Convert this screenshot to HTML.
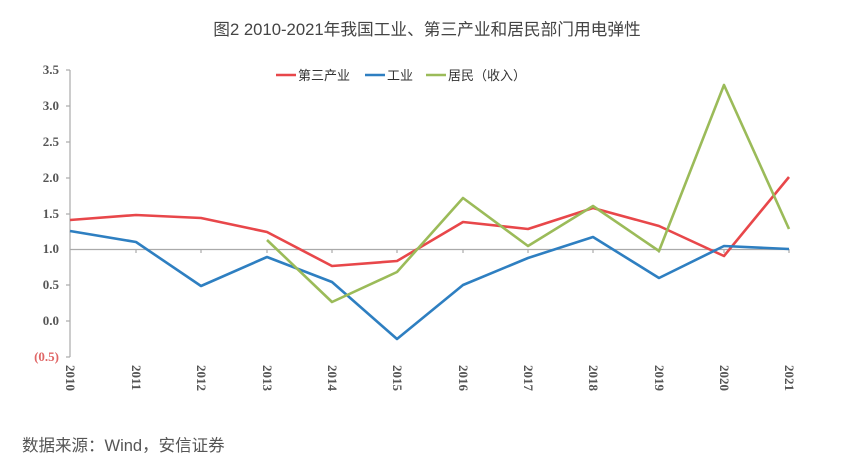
<!DOCTYPE html>
<html><head><meta charset="utf-8"><style>
body{margin:0;background:#fff;width:865px;height:473px;overflow:hidden}
svg{display:block}
</style></head><body>
<svg width="865" height="473" xmlns="http://www.w3.org/2000/svg" font-family="Liberation Serif, serif">
<text x="427" y="35" text-anchor="middle" font-family="Liberation Sans, Noto Sans CJK SC, sans-serif" font-size="16.7" fill="#444">图2 2010-2021年我国工业、第三产业和居民部门用电弹性</text>
<g stroke="#aaa" stroke-width="1.2">
<line x1="70" y1="70" x2="70" y2="357"/>
<line x1="70" y1="249.5" x2="789" y2="249.5"/>
<line x1="66" y1="70" x2="70" y2="70"/><line x1="66" y1="106" x2="70" y2="106"/><line x1="66" y1="142" x2="70" y2="142"/><line x1="66" y1="178" x2="70" y2="178"/><line x1="66" y1="214" x2="70" y2="214"/><line x1="66" y1="285" x2="70" y2="285"/><line x1="66" y1="321" x2="70" y2="321"/><line x1="66" y1="357" x2="70" y2="357"/>
<line x1="136" y1="249" x2="136" y2="253"/><line x1="201" y1="249" x2="201" y2="253"/><line x1="267" y1="249" x2="267" y2="253"/><line x1="332" y1="249" x2="332" y2="253"/><line x1="397" y1="249" x2="397" y2="253"/><line x1="463" y1="249" x2="463" y2="253"/><line x1="528" y1="249" x2="528" y2="253"/><line x1="593" y1="249" x2="593" y2="253"/><line x1="659" y1="249" x2="659" y2="253"/><line x1="724" y1="249" x2="724" y2="253"/><line x1="789" y1="249" x2="789" y2="253"/>
</g>
<g font-size="13" font-weight="bold" fill="#555" text-anchor="end">
<text x="59" y="74">3.5</text><text x="59" y="110">3.0</text><text x="59" y="146">2.5</text><text x="59" y="182">2.0</text><text x="59" y="218">1.5</text><text x="59" y="253">1.0</text><text x="59" y="289">0.5</text><text x="59" y="325">0.0</text><text x="59" y="361" fill="#e06666">(0.5)</text>
</g>
<g font-size="13" font-weight="bold" fill="#555">
<text transform="translate(66,365) rotate(90)">2010</text>
<text transform="translate(132,365) rotate(90)">2011</text>
<text transform="translate(197,365) rotate(90)">2012</text>
<text transform="translate(263,365) rotate(90)">2013</text>
<text transform="translate(328,365) rotate(90)">2014</text>
<text transform="translate(393,365) rotate(90)">2015</text>
<text transform="translate(459,365) rotate(90)">2016</text>
<text transform="translate(524,365) rotate(90)">2017</text>
<text transform="translate(589,365) rotate(90)">2018</text>
<text transform="translate(655,365) rotate(90)">2019</text>
<text transform="translate(720,365) rotate(90)">2020</text>
<text transform="translate(785,365) rotate(90)">2021</text>
</g>
<g fill="none" stroke-width="2.6" stroke-linejoin="round">
<polyline stroke="#e8474a" points="70,220 136,215 201,218 267,232 332,266 397,261 463,222 528,229 593,208 659,226 724,256 789,177"/>
<polyline stroke="#2e7fc1" points="70,231 136,242 201,286 267,257 332,282 397,339 463,285 528,258 593,237 659,278 724,246 789,249"/>
<polyline stroke="#9bbb59" points="267,240 332,302 397,272 463,198 528,246 593,206 659,251 724,85 789,229"/>
</g>
<g font-family="Liberation Sans, Noto Sans CJK SC, sans-serif" font-size="13" fill="#333">
<line x1="276" y1="75" x2="296" y2="75" stroke="#e8474a" stroke-width="2.6"/><text x="298" y="80">第三产业</text>
<line x1="365" y1="75" x2="385" y2="75" stroke="#2e7fc1" stroke-width="2.6"/><text x="387" y="80">工业</text>
<line x1="426" y1="75" x2="446" y2="75" stroke="#9bbb59" stroke-width="2.6"/><text x="448" y="80">居民（收入）</text>
</g>
<text x="22" y="451" font-family="Liberation Sans, Noto Sans CJK SC, sans-serif" font-size="16.5" fill="#555">数据来源：Wind，安信证券</text>
</svg>
</body></html>
